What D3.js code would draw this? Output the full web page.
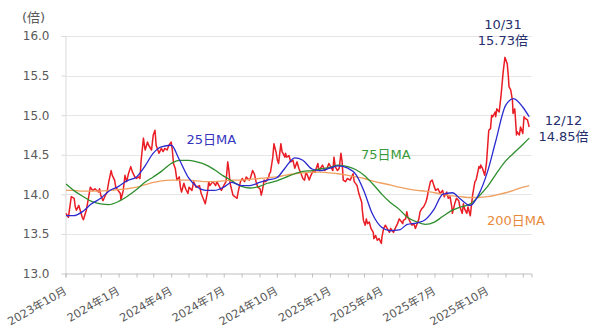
<!DOCTYPE html>
<html>
<head>
<meta charset="utf-8">
<script src="https://cdn.jsdelivr.net/npm/d3@7"></script>
<style>
  html, body { margin: 0; padding: 0; background: #fff; }
  svg { display: block; font-family: "DejaVu Sans", "Noto Sans CJK JP", sans-serif; }
</style>
</head>
<body>
<svg id="chart" width="600" height="336"></svg>
<script>
// 日経平均の予想PER（倍）と移動平均
const perDaily = [
  ["2023-10-02",13.76],["2023-10-06",13.71],["2023-10-11",13.97],["2023-10-16",13.95],["2023-10-18",13.84],
  ["2023-10-20",13.80],["2023-10-24",13.86],["2023-10-30",13.71],["2023-11-01",13.68],["2023-11-06",13.80],
  ["2023-11-09",13.92],["2023-11-13",14.09],["2023-11-17",14.05],["2023-11-21",14.07],["2023-11-27",14.03],
  ["2023-11-29",14.07],["2023-12-01",13.99],["2023-12-05",13.92],["2023-12-08",13.97],["2023-12-12",14.03],
  ["2023-12-15",14.16],["2023-12-19",14.30],["2023-12-21",14.24],["2023-12-25",14.18],["2023-12-27",14.09],
  ["2024-01-04",14.01],["2024-01-05",13.93],["2024-01-09",14.05],["2024-01-12",14.24],["2024-01-15",14.16],
  ["2024-01-18",14.26],["2024-01-22",14.35],["2024-01-25",14.28],["2024-01-29",14.22],["2024-02-01",14.20],
  ["2024-02-05",14.22],["2024-02-07",14.20],["2024-02-09",14.43],["2024-02-13",14.71],["2024-02-15",14.60],
  ["2024-02-16",14.56],["2024-02-20",14.66],["2024-02-22",14.62],["2024-02-27",14.56],["2024-03-01",14.75],
  ["2024-03-04",14.81],["2024-03-06",14.62],["2024-03-11",14.52],["2024-03-15",14.58],["2024-03-18",14.54],
  ["2024-03-21",14.58],["2024-03-25",14.56],["2024-03-28",14.62],["2024-04-01",14.66],["2024-04-03",14.56],
  ["2024-04-05",14.39],["2024-04-08",14.33],["2024-04-11",14.18],["2024-04-15",14.22],["2024-04-17",14.09],
  ["2024-04-19",14.03],["2024-04-23",14.14],["2024-04-26",14.07],["2024-04-30",14.01],["2024-05-02",14.09],
  ["2024-05-07",14.05],["2024-05-10",14.16],["2024-05-14",14.09],["2024-05-20",14.11],["2024-05-23",14.01],
  ["2024-05-28",13.92],["2024-05-30",13.88],["2024-06-03",14.03],["2024-06-05",14.16],["2024-06-07",14.11],
  ["2024-06-12",14.16],["2024-06-17",14.11],["2024-06-19",14.16],["2024-06-24",14.09],["2024-06-27",14.05],
  ["2024-07-01",14.11],["2024-07-05",14.16],["2024-07-08",14.41],["2024-07-10",14.30],["2024-07-12",14.14],
  ["2024-07-17",13.99],["2024-07-22",13.96],["2024-07-24",13.95],["2024-07-26",14.03],["2024-07-30",14.16],
  ["2024-08-02",14.20],["2024-08-06",14.16],["2024-08-09",14.22],["2024-08-14",14.18],["2024-08-16",14.20],
  ["2024-08-20",14.30],["2024-08-23",14.26],["2024-08-26",14.16],["2024-08-29",14.09],["2024-09-02",14.07],
  ["2024-09-04",13.99],["2024-09-06",14.05],["2024-09-09",14.18],["2024-09-12",14.16],["2024-09-17",14.22],
  ["2024-09-18",14.26],["2024-09-20",14.28],["2024-09-24",14.47],["2024-09-26",14.64],["2024-09-30",14.52],
  ["2024-10-02",14.43],["2024-10-04",14.39],["2024-10-08",14.64],["2024-10-10",14.54],["2024-10-15",14.47],
  ["2024-10-16",14.52],["2024-10-18",14.47],["2024-10-22",14.49],["2024-10-25",14.41],["2024-10-29",14.43],
  ["2024-11-01",14.33],["2024-11-05",14.41],["2024-11-08",14.33],["2024-11-12",14.26],["2024-11-15",14.20],
  ["2024-11-18",14.18],["2024-11-20",14.26],["2024-11-22",14.26],["2024-11-26",14.18],["2024-11-29",14.24],
  ["2024-12-03",14.30],["2024-12-06",14.28],["2024-12-11",14.39],["2024-12-13",14.30],["2024-12-19",14.37],
  ["2024-12-23",14.30],["2024-12-27",14.33],["2024-12-30",14.39],["2025-01-06",14.30],["2025-01-08",14.47],
  ["2025-01-10",14.35],["2025-01-14",14.30],["2025-01-17",14.33],["2025-01-20",14.52],["2025-01-22",14.41],
  ["2025-01-24",14.18],["2025-01-28",14.16],["2025-01-31",14.20],["2025-02-05",14.18],["2025-02-10",14.26],
  ["2025-02-12",14.16],["2025-02-17",14.11],["2025-02-20",14.01],["2025-02-25",13.90],["2025-02-26",13.80],
  ["2025-02-28",13.67],["2025-03-03",13.61],["2025-03-05",13.69],["2025-03-07",13.63],["2025-03-10",13.65],
  ["2025-03-13",13.57],["2025-03-17",13.52],["2025-03-18",13.44],["2025-03-21",13.48],["2025-03-24",13.42],
  ["2025-03-27",13.44],["2025-03-31",13.38],["2025-04-01",13.46],["2025-04-04",13.57],["2025-04-07",13.61],
  ["2025-04-10",13.57],["2025-04-14",13.52],["2025-04-16",13.57],["2025-04-21",13.52],["2025-04-24",13.57],
  ["2025-04-28",13.63],["2025-05-01",13.69],["2025-05-07",13.63],["2025-05-08",13.67],["2025-05-12",13.69],
  ["2025-05-14",13.78],["2025-05-16",13.71],["2025-05-20",13.65],["2025-05-23",13.61],["2025-05-26",13.63],
  ["2025-05-29",13.57],["2025-06-02",13.65],["2025-06-04",13.69],["2025-06-06",13.78],["2025-06-09",13.82],
  ["2025-06-12",13.84],["2025-06-16",13.90],["2025-06-18",13.95],["2025-06-20",14.03],["2025-06-24",14.16],
  ["2025-06-27",14.18],["2025-06-30",14.11],["2025-07-03",14.05],["2025-07-07",14.07],["2025-07-11",14.01],
  ["2025-07-15",14.05],["2025-07-18",13.97],["2025-07-22",14.03],["2025-07-25",13.95],["2025-07-28",13.97],
  ["2025-07-31",13.84],["2025-08-01",13.76],["2025-08-05",13.88],["2025-08-08",13.95],["2025-08-12",13.92],
  ["2025-08-14",13.84],["2025-08-18",13.76],["2025-08-20",13.88],["2025-08-22",13.82],["2025-08-26",13.76],
  ["2025-08-28",13.84],["2025-09-01",13.73],["2025-09-03",13.86],["2025-09-05",13.99],["2025-09-09",14.16],
  ["2025-09-11",14.18],["2025-09-16",14.35],["2025-09-18",14.33],["2025-09-19",14.37],["2025-09-22",14.33],
  ["2025-09-26",14.24],["2025-09-29",14.39],["2025-10-01",14.60],["2025-10-03",14.81],["2025-10-06",14.83],
  ["2025-10-08",15.00],["2025-10-10",14.98],["2025-10-14",15.04],["2025-10-15",14.98],["2025-10-17",15.08],
  ["2025-10-21",15.04],["2025-10-24",15.23],["2025-10-28",15.55],["2025-10-31",15.73],["2025-11-04",15.65],
  ["2025-11-06",15.48],["2025-11-07",15.36],["2025-11-10",15.32],["2025-11-12",15.23],["2025-11-13",15.19],
  ["2025-11-14",15.02],["2025-11-17",15.08],["2025-11-18",14.98],["2025-11-20",14.75],["2025-11-21",14.79],
  ["2025-11-25",14.75],["2025-11-27",14.85],["2025-12-01",14.77],["2025-12-03",14.98],["2025-12-05",14.96],
  ["2025-12-09",14.94],["2025-12-12",14.85]
];

// Moving averages sampled twice a month
const maDates = [
  "2023-10-02","2023-10-15","2023-11-01","2023-11-15","2023-12-01","2023-12-15",
  "2024-01-01","2024-01-15","2024-02-01","2024-02-15","2024-03-01","2024-03-15",
  "2024-04-01","2024-04-15","2024-05-01","2024-05-15","2024-06-01","2024-06-15",
  "2024-07-01","2024-07-15","2024-08-01","2024-08-15","2024-09-01","2024-09-15",
  "2024-10-01","2024-10-15","2024-11-01","2024-11-15","2024-12-01","2024-12-15",
  "2025-01-01","2025-01-15","2025-02-01","2025-02-15","2025-03-01","2025-03-15",
  "2025-04-01","2025-04-15","2025-05-01","2025-05-15","2025-06-01","2025-06-15",
  "2025-07-01","2025-07-15","2025-08-01","2025-08-15","2025-09-01","2025-09-15",
  "2025-10-01","2025-10-15","2025-11-01","2025-11-15","2025-12-01","2025-12-12"
];
const ma25 = [
  13.73,13.73,13.79,13.88,13.95,14.04, 14.10,14.17,14.22,14.35,14.52,14.60,
  14.62,14.44,14.21,14.10,14.05,14.05, 14.09,14.15,14.11,14.11,14.15,14.18,
  14.21,14.33,14.46,14.43,14.32,14.30, 14.33,14.36,14.33,14.25,14.04,13.76,
  13.58,13.54,13.55,13.62,13.64,13.68, 13.82,14.00,14.02,13.94,13.86,13.99,
  14.29,14.67,15.12,15.21,15.10,14.98
];
const ma75 = [
  14.13,14.05,13.97,13.91,13.88,13.87, 13.91,13.97,14.06,14.15,14.22,14.29,
  14.39,14.43,14.43,14.41,14.37,14.31, 14.23,14.17,14.10,14.08,14.10,14.14,
  14.17,14.21,14.26,14.29,14.30,14.32, 14.34,14.37,14.35,14.31,14.24,14.14,
  14.00,13.90,13.81,13.71,13.65,13.62, 13.65,13.72,13.80,13.84,13.88,13.97,
  14.10,14.25,14.42,14.52,14.63,14.71
];
const ma200 = [
  14.05,14.05,14.04,14.04,14.04,14.05, 14.06,14.07,14.09,14.12,14.15,14.17,
  14.18,14.18,14.18,14.17,14.16,14.16, 14.17,14.18,14.18,14.19,14.20,14.21,
  14.22,14.24,14.26,14.27,14.28,14.28, 14.27,14.26,14.24,14.22,14.20,14.17,
  14.14,14.12,14.09,14.07,14.05,14.04, 14.02,14.00,13.98,13.97,13.96,13.96,
  13.97,13.99,14.02,14.05,14.09,14.11
];

const yTicks = [13.0, 13.5, 14.0, 14.5, 15.0, 15.5, 16.0];
const xLabelMonths = [0, 3, 6, 9];   // 1月・4月・7月・10月 にラベル
const yUnit = "(倍)";
const seriesLabels = ["25日MA", "75日MA", "200日MA"];
const peakDate = "2025-10-31";
const lastDate = "2025-12-12";

const parse = d3.timeParse("%Y-%m-%d");
const perPts = perDaily.map(([d, v]) => ({ date: parse(d), v }));
const maPts = vals => vals.map((v, i) => ({ date: parse(maDates[i]), v }));

const svg = d3.select("#chart");
const plotL = 65.5, plotR = 531.5, plotT = 36, plotB = 273.5;

const x = d3.scaleTime()
  .domain([parse("2023-10-01"), parse("2025-12-16")])
  .range([plotL, plotR]);
const y = d3.scaleLinear().domain([13, 16]).range([plotB, plotT]);

// grid
svg.append("g")
  .selectAll("line")
  .data(yTicks.filter(t => t > 13))
  .join("line")
  .attr("x1", plotL).attr("x2", plotR)
  .attr("y1", d => Math.round(y(d)) + 0.5).attr("y2", d => Math.round(y(d)) + 0.5)
  .attr("stroke", "#e6e6e6").attr("stroke-width", 1);

// y axis
const yAxis = svg.append("g")
  .attr("transform", `translate(${plotL},0)`)
  .call(d3.axisLeft(y).tickValues(yTicks).tickFormat(d3.format(".1f")).tickSize(4).tickPadding(12));
yAxis.select(".domain").attr("stroke", "#d9d9d9");
yAxis.selectAll(".tick line").attr("stroke", "#d9d9d9");
yAxis.selectAll(".tick text").attr("fill", "#595959").attr("font-size", 12)
  .attr("font-family", "DejaVu Sans, Noto Sans CJK JP");

svg.append("text").attr("x", 22).attr("y", 22)
  .attr("fill", "#595959").attr("font-size", 13).text(yUnit);

// x axis
const xAxis = svg.append("g")
  .attr("transform", `translate(0,${plotB})`)
  .call(d3.axisBottom(x).ticks(d3.timeMonth.every(1)).tickSize(4).tickFormat(() => ""));
xAxis.select(".domain").attr("stroke", "#bfbfbf");
xAxis.selectAll(".tick line").attr("stroke", "#bfbfbf");

const labelMonths = x.ticks(d3.timeMonth.every(1)).filter(d => xLabelMonths.includes(d.getMonth()));
svg.append("g")
  .selectAll("text")
  .data(labelMonths)
  .join("text")
  .attr("transform", d => `translate(${x(d) + 2},293) rotate(-30)`)
  .attr("text-anchor", "end")
  .attr("fill", "#595959")
  .attr("font-size", 11.3)
  .text(d => `${d.getFullYear()}年${d.getMonth() + 1}月`);

// lines
const line = d3.line().x(d => x(d.date)).y(d => y(d.v));
const smooth = d3.line().x(d => x(d.date)).y(d => y(d.v)).curve(d3.curveMonotoneX);

svg.append("path").datum(perPts).attr("d", line)
  .attr("fill", "none").attr("stroke", "#ea1c24").attr("stroke-width", 1.5).attr("stroke-linejoin", "round");
svg.append("path").datum(maPts(ma200)).attr("d", smooth)
  .attr("fill", "none").attr("stroke", "#f0a060").attr("stroke-width", 1.3);
svg.append("path").datum(maPts(ma75)).attr("d", smooth)
  .attr("fill", "none").attr("stroke", "#2e8f2e").attr("stroke-width", 1.3);
svg.append("path").datum(maPts(ma25)).attr("d", smooth)
  .attr("fill", "none").attr("stroke", "#2a2ad0").attr("stroke-width", 1.3);

// series labels
const labelColors = ["#3535c0", "#3a9a3a", "#e88a3a"];
const labelPos = [[186.5, 143.5], [361, 159], [487, 225]];
svg.append("g").selectAll("text").data(seriesLabels).join("text")
  .attr("x", (d, i) => labelPos[i][0]).attr("y", (d, i) => labelPos[i][1])
  .attr("fill", (d, i) => labelColors[i]).attr("font-size", 13)
  .text(d => d);

// annotations for the peak and the latest value
const peak = perPts.find(p => +p.date === +parse(peakDate));
const last = perPts.find(p => +p.date === +parse(lastDate));
const md = d => `${d.getMonth() + 1}/${d.getDate()}`;
const ann = svg.append("g").attr("fill", "#262f6b").attr("font-size", 13).attr("text-anchor", "middle");
ann.append("text").attr("x", x(peak.date) - 2).attr("y", 28.5).text(md(peak.date));
ann.append("text").attr("x", x(peak.date) - 2).attr("y", 44.5).text(`${peak.v.toFixed(2)}倍`);
ann.append("text").attr("x", 563.5).attr("y", 124.5).text(md(last.date));
ann.append("text").attr("x", 563.5).attr("y", 141).text(`${last.v.toFixed(2)}倍`);
</script>
</body>
</html>
